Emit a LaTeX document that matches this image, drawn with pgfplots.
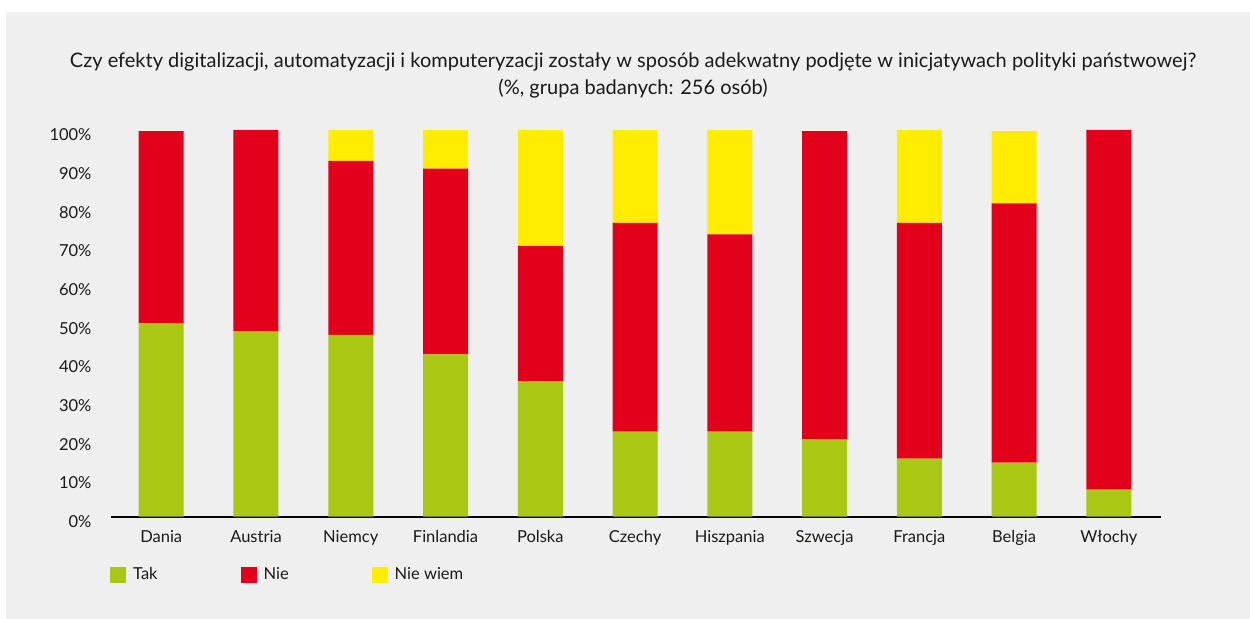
\documentclass[border=0pt]{standalone}
\usepackage{pgfplots}
\pgfplotsset{compat=1.18}
\usepackage{fontspec}
\setmainfont{Lato}
\definecolor{bg}{HTML}{EFEFEF}
\definecolor{txt}{HTML}{1A1A1A}
\definecolor{tak}{HTML}{A9C713}
\definecolor{nie}{HTML}{E2001A}
\definecolor{niewiem}{HTML}{FFED00}
\pgfplotstableread{
x tak nie niewiem
0 50 49.7 0
1 48 52 0
2 47 45 8
3 42 48 10
4 35 35 30
5 22 54 24
6 22 51 27
7 20 79.7 0
8 15 61 24
9 14 67 18.7
10 7 93 0
}\datatable
\begin{document}
\fontsize{16bp}{19bp}\selectfont
\begin{tikzpicture}[x=1bp,y=1bp]
\useasboundingbox (0,0) rectangle (1250,619);
\fill[white] (0,0) rectangle (1250,619);
\fill[bg] (6,0) rectangle (1250,607);
\node[align=center, text=txt, font=\fontsize{20bp}{27bp}\selectfont] at (633,544)
  {Czy efekty digitalizacji, automatyzacji i komputeryzacji zostały w sposób adekwatny podjęte w inicjatywach polityki państwowej?\\(\%, grupa badanych: 256 osób)};
\begin{axis}[
  at={(111bp,102.3bp)}, anchor=south west,
  scale only axis, width=1050bp, height=386.7bp,
  ybar stacked, bar width=45bp,
  xmin=-0.53, xmax=10.55, ymin=0, ymax=100,
  axis lines*=left,
  y axis line style={draw=none},
  x axis line style={draw=black, line width=2.2bp},
  xtick=data,
  xticklabels={Dania,Austria,Niemcy,Finlandia,Polska,Czechy,Hiszpania,Szwecja,Francja,Belgia,Włochy},
  ytick={0,10,...,100},
  yticklabels={0\%,10\%,20\%,30\%,40\%,50\%,60\%,70\%,80\%,90\%,100\%},
  major tick length=0pt,
  tick label style={text=txt, font=\fontsize{16.5bp}{19bp}\selectfont},
  yticklabel style={anchor=east, xshift=-14bp, yshift=-5bp},
  xticklabel style={anchor=north, yshift=-8bp},
  legend columns=3,
  legend style={at={(axis description cs:-0.001,-0.1508)}, anchor=west, draw=none, fill=none,
    inner sep=0pt, font=\fontsize{16.5bp}{19bp}\selectfont, text=txt,
    /tikz/every odd column/.append style={column sep=5bp},
    /tikz/every even column/.append style={column sep=81bp}},
  legend cell align=left,
  legend image code/.code={\fill[#1] (0bp,-8bp) rectangle (16bp,8bp);},
]
\addplot[fill=tak, draw=none] table[x=x,y=tak] {\datatable};
\addplot[fill=nie, draw=none] table[x=x,y=nie] {\datatable};
\addplot[fill=niewiem, draw=none] table[x=x,y=niewiem] {\datatable};
\legend{Tak,Nie,Nie wiem}
\end{axis}
\end{tikzpicture}
\end{document}
